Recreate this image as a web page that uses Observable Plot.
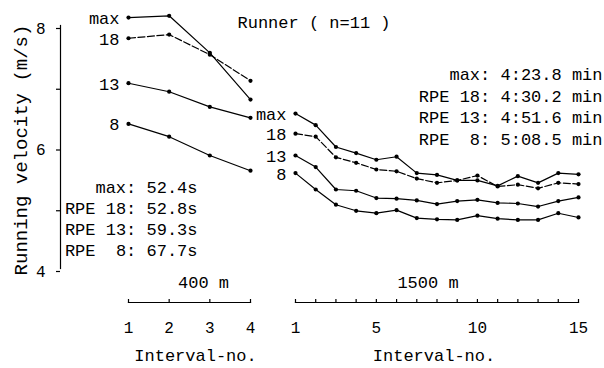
<!DOCTYPE html>
<html>
<head>
<meta charset="utf-8">
<script src="https://cdn.jsdelivr.net/npm/d3@7"></script>
<script src="https://cdn.jsdelivr.net/npm/@observablehq/plot@0.6"></script>
<style>
  html, body { margin: 0; padding: 0; background: white; }
  #chart { position: relative; width: 604px; height: 368px; overflow: hidden; }
  #chart svg { position: absolute; left: 0; top: 0; }
</style>
</head>
<body>
<div id="chart"></div>
<script>
// ---- data ----
const seriesNames = ["max", "RPE 18", "RPE 13", "RPE 8"];
const seriesLabels = ["max", "18", "13", "8"];

const intervals400 = [1, 2, 3, 4];
const v400max  = [8.13, 8.16, 7.55, 6.78];
const v400rpe18 = [7.79, 7.85, 7.52, 7.09];
const v400rpe13 = [7.05, 6.91, 6.66, 6.48];
const v400rpe8  = [6.38, 6.17, 5.86, 5.61];

const intervals1500 = [1, 2, 3, 4, 5, 6, 7, 8, 9, 10, 11, 12, 13, 14, 15];
const v1500max   = [6.55, 6.36, 6.00, 5.90, 5.79, 5.84, 5.57, 5.54, 5.45, 5.45, 5.36, 5.52, 5.41, 5.57, 5.55];
const v1500rpe18 = [6.22, 6.17, 5.83, 5.74, 5.63, 5.60, 5.48, 5.41, 5.45, 5.53, 5.35, 5.38, 5.32, 5.41, 5.39];
const v1500rpe13 = [5.86, 5.67, 5.30, 5.28, 5.16, 5.15, 5.12, 5.06, 5.11, 5.13, 5.08, 5.07, 5.02, 5.11, 5.17];
const v1500rpe8  = [5.57, 5.30, 5.05, 4.95, 4.91, 4.96, 4.83, 4.81, 4.80, 4.87, 4.82, 4.80, 4.80, 4.91, 4.84];

const yTicks = [4, 5, 6, 7, 8];
const yTickLabels = [4, 6, 8];
const xTicks400 = [1, 2, 3, 4];
const xTicks1500 = [1, 2, 3, 4, 5, 6, 7, 8, 9, 10, 11, 12, 13, 14, 15];
const xLabels1500 = [1, 5, 10, 15];

const yLabel = "Running velocity (m/s)";
const title = "Runner ( n=11 )";
const panel400 = "400 m";
const panel1500 = "1500 m";
const xLabel = "Interval-no.";
const times400 = ["max: 52.4s", "RPE 18: 52.8s", "RPE 13: 59.3s", "RPE \u00a08: 67.7s"];
const times1500 = ["max: 4:23.8 min", "RPE 18: 4:30.2 min", "RPE 13: 4:51.6 min", "RPE \u00a08: 5:08.5 min"];

// ---- build tables ----
function rows(xs, lists) {
  const out = [];
  lists.forEach((vals, s) => vals.forEach((v, i) => out.push({series: seriesNames[s], label: seriesLabels[s], x: xs[i], v})));
  return out;
}
const rows400 = rows(intervals400, [v400max, v400rpe18, v400rpe13, v400rpe8]);
const rows1500 = rows(intervals1500, [v1500max, v1500rpe18, v1500rpe13, v1500rpe8]);

const W = 604, H = 368;
const FONT = "'Liberation Mono', 'DejaVu Sans Mono', monospace";
const baseStyle = {background: "transparent", fontFamily: FONT, fontSize: "17px", color: "black", overflow: "visible"};
const yScale = {domain: [4, 8], range: [268, 25], axis: null};

function dataMarks(data) {
  return [
    Plot.line(data.filter(d => d.series !== "RPE 18"), {x: "x", y: "v", z: "series", stroke: "black", strokeWidth: 1.2}),
    Plot.line(data.filter(d => d.series === "RPE 18"), {x: "x", y: "v", stroke: "black", strokeWidth: 1.2, strokeDasharray: "7,2.5"}),
    Plot.dot(data, {x: "x", y: "v", r: 2.1, fill: "black", stroke: "none"}),
    Plot.text(data.filter(d => d.x === 1), {x: "x", y: "v", text: "label", textAnchor: "end", dx: -9, dy: 1, fontSize: 17})
  ];
}

// y axis chart
const yChart = Plot.plot({
  width: W, height: H,
  marginLeft: 60, marginRight: 0, marginTop: 25, marginBottom: 100,
  style: baseStyle,
  x: {domain: [0, 1], axis: null},
  y: {domain: [4, 8], axis: null},
  marks: [
    Plot.frame({anchor: "left", stroke: "black", strokeWidth: 1.2}),
    Plot.axisY(yTicks, {tickSize: 4, tickPadding: 11, tickFormat: d => yTickLabels.includes(d) ? String(d) : "", label: null, fontSize: 16, dy: 3, strokeWidth: 1.2}),
    Plot.text([yLabel], {frameAnchor: "left", textAnchor: "middle", lineAnchor: "middle", rotate: -90, dx: -40, dy: 3, fontSize: 19}),
    Plot.text([title], {frameAnchor: "top-left", textAnchor: "start", lineAnchor: "middle", dx: 177, dy: -3, fontSize: 17})
  ]
});

// 400 m panel
const chart400 = Plot.plot({
  width: W, height: H,
  marginLeft: 128, marginRight: W - 250, marginTop: 302, marginBottom: 4,
  style: baseStyle,
  x: {domain: [1, 4], axis: null},
  y: yScale,
  marks: [
    Plot.frame({anchor: "top", stroke: "black", strokeWidth: 1.2}),
    Plot.axisX(xTicks400, {anchor: "top", tickSize: 4, tickFormat: () => "", label: null, strokeWidth: 1.2}),
    Plot.text(xTicks400, {x: d => d, text: d => String(d), frameAnchor: "top", lineAnchor: "middle", dy: 25, fontSize: 16}),
    Plot.text([xLabel], {frameAnchor: "top", textAnchor: "middle", lineAnchor: "middle", dx: 6, dy: 53, fontSize: 17}),
    Plot.text([panel400], {frameAnchor: "top", textAnchor: "middle", lineAnchor: "middle", dx: 14, dy: -20, fontSize: 17}),
    Plot.text([times400.join("\n")], {frameAnchor: "top-left", textAnchor: "end", lineAnchor: "middle", lineHeight: 1.24, dx: 69, dy: -85, fontSize: 17}),
    ...dataMarks(rows400)
  ]
});

// 1500 m panel
const chart1500 = Plot.plot({
  width: W, height: H,
  marginLeft: 295, marginRight: W - 578, marginTop: 302, marginBottom: 4,
  style: baseStyle,
  x: {domain: [1, 15], axis: null},
  y: yScale,
  marks: [
    Plot.frame({anchor: "top", stroke: "black", strokeWidth: 1.2}),
    Plot.axisX(xTicks1500, {anchor: "top", tickSize: 4, tickFormat: () => "", label: null, strokeWidth: 1.2}),
    Plot.text(xLabels1500, {x: d => d, text: d => String(d), frameAnchor: "top", lineAnchor: "middle", dy: 25, fontSize: 16}),
    Plot.text([xLabel], {frameAnchor: "top", textAnchor: "middle", lineAnchor: "middle", dx: -3, dy: 53, fontSize: 17}),
    Plot.text([panel1500], {frameAnchor: "top", textAnchor: "middle", lineAnchor: "middle", dx: -9, dy: -20, fontSize: 17}),
    Plot.text([times1500.join("\n")], {frameAnchor: "top-right", textAnchor: "end", lineAnchor: "middle", lineHeight: 1.27, dx: 24, dy: -197, fontSize: 17}),
    ...dataMarks(rows1500)
  ]
});

const host = document.getElementById("chart");
host.append(yChart, chart400, chart1500);
</script>
</body>
</html>
